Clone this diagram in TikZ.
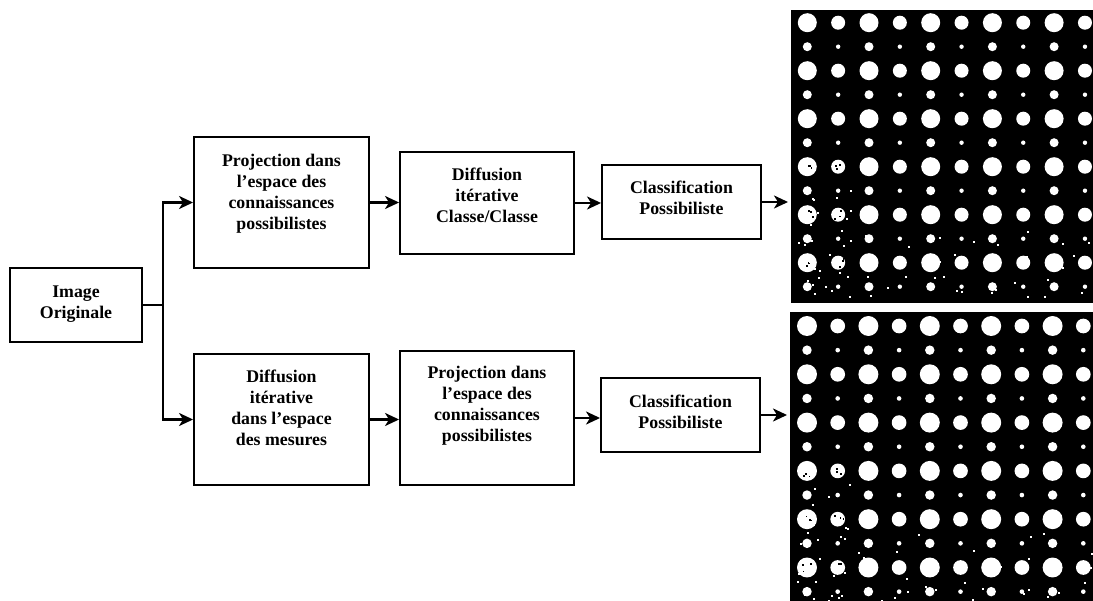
\documentclass[tikz,border=0pt]{standalone}
\usepackage{fontspec}
\setmainfont{Liberation Serif}
\usetikzlibrary{arrows.meta}
\newcommand{\dotgrid}[6]{%
 \pgfmathsetseed{#5}%
 \foreach \r in {1,...,12}{%
  \foreach \c in {1,...,10}{%
   \pgfmathsetmacro{\cx}{#1+(\c-1)*#3}%
   \pgfmathsetmacro{\cy}{#2+(\r-1)*#4}%
   \pgfmathsetmacro{\rad}{#6*(mod(\r,2)==1 ? (mod(\c,2)==1 ? 9.5 : 7) : (mod(\c,2)==1 ? 4.5 : 2.2))}%
   \fill[white] (\cx,\cy) circle[radius=\rad];
   \ifnum\r>7
     \pgfmathtruncatemacro{\ns}{(\r-7)*0.45+(\c<3 ? 2 : 0)}%
     \ifnum\ns>0
     \foreach \k in {1,...,\ns}{%
       \pgfmathsetmacro{\px}{\cx+rand*13}%
       \pgfmathsetmacro{\py}{\cy+rand*11}%
       \fill[white] (\px,\py) rectangle ++(2,2);
     }%
     \fi
   \fi
   \ifnum\r>6
     \ifnum\c<3
       \pgfmathtruncatemacro{\odd}{mod(\r,2)}%
       \ifnum\odd=1
         \foreach \k in {1,...,3}{%
           \pgfmathsetmacro{\px}{\cx+rand*5}%
           \pgfmathsetmacro{\py}{\cy+rand*5}%
           \fill[black] (\px,\py) rectangle ++(1.8,1.8);
         }%
       \fi
     \fi
   \fi
  }}}
\begin{document}
\begin{tikzpicture}[x=1pt,y=-1pt,
  box/.style={draw, line width=1.9pt, inner sep=0pt},
  txt/.style={font=\fontsize{17.8}{21}\selectfont\bfseries, align=center, inner sep=0pt},
  arr/.style={line width=2.2pt, -{Stealth[length=14pt,width=13pt,inset=4pt]}},
  ln/.style={line width=2.2pt},
  img/.style={fill=black, inner sep=0pt, outer sep=0pt, anchor=north west}]
\useasboundingbox (0,0) rectangle (1093,601);
\fill[white] (0,0) rectangle (1093,601);

% boxes
\node[box, minimum width=132pt, minimum height=74pt] (orig) at (76,305) {};
\node[box, minimum width=175pt, minimum height=131pt] (p1) at (281.5,202.5) {};
\node[box, minimum width=174pt, minimum height=102pt] (d1) at (487,203) {};
\node[box, minimum width=159pt, minimum height=74pt] (c1) at (681.5,202) {};
\node[box, minimum width=175pt, minimum height=131pt] (d2) at (281.5,419.5) {};
\node[box, minimum width=174pt, minimum height=134pt] (p2) at (487,418) {};
\node[box, minimum width=159pt, minimum height=74pt] (c2) at (680.5,415) {};

% texts
\node[txt] (torig) at (76,304) {Image\\Originale};
\node[txt] (tp1) at (281.5,194) {Projection dans\\l’espace des\\connaissances\\possibilistes};
\node[txt] (td1) at (487,195) {Diffusion\\itérative\\Classe/Classe};
\node[txt] (tc1) at (681.5,198) {Classification\\Possibiliste};
\node[txt] (td2) at (281.5,408) {Diffusion\\itérative\\dans l’espace\\des mesures};
\node[txt] (tp2) at (487,406) {Projection dans\\l’espace des\\connaissances\\possibilistes};
\node[txt] (tc2) at (680.5,412) {Classification\\Possibiliste};

% images
\node[img, minimum width=302pt, minimum height=293pt] (im1) at (791,10) {};
\node[img, minimum width=303pt, minimum height=289pt] (im2) at (790,312) {};
\begin{scope}
  \clip (im1.north west) rectangle (im1.south east);
  \dotgrid{807.3}{22.7}{30.85}{24.0}{11}{1}
\end{scope}
\begin{scope}
  \clip (im2.north west) rectangle (im2.south east);
  \dotgrid{807}{326}{30.7}{24.15}{29}{1.05}
\end{scope}

% connectors
\coordinate (j) at (163,305);
\draw[ln] (orig.east) -- (j);
\draw[arr] (j) |- (p1.west);
\draw[arr] (j) |- (d2.west);
\draw[arr] (p1.east) -- (p1.east -| d1.west);
\draw[arr] (d1.east) -- (d1.east -| c1.west);
\draw[arr] (c1.east) -- ([xshift=-3pt]c1.east -| im1.west);
\draw[arr] (d2.east) -- (d2.east -| p2.west);
\draw[arr] (p2.east) -- (p2.east -| c2.west);
\draw[arr] (c2.east) -- ([xshift=-3pt]c2.east -| im2.west);
\end{tikzpicture}
\end{document}
